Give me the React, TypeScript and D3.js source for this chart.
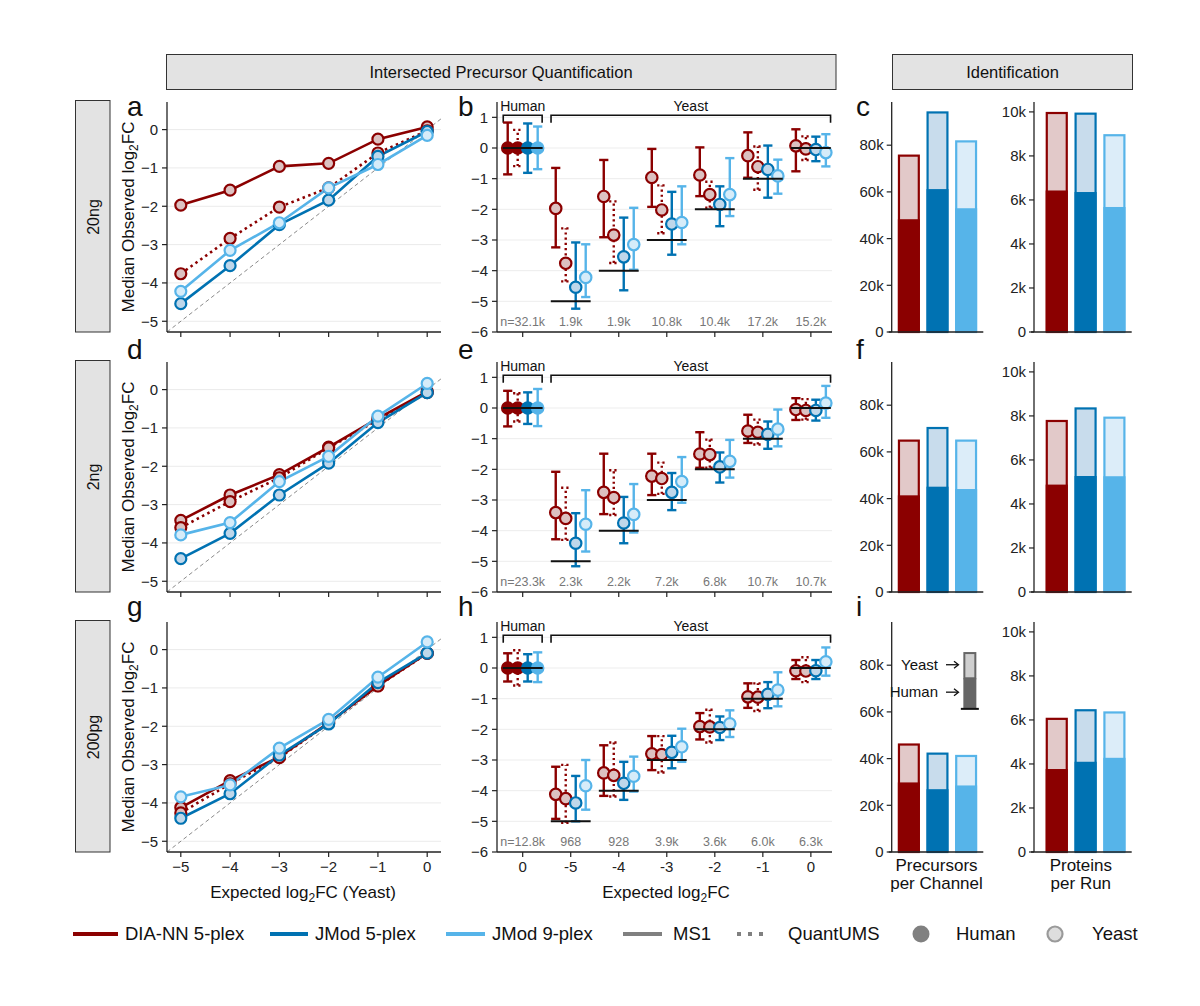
import React from "react";
import * as d3 from "d3";

const FONT = "'Liberation Sans', Arial, Helvetica, sans-serif";

const rowLabels = ["20ng", "2ng", "200pg"];
const expectedFC = [-5, -4, -3, -2, -1, 0];
const categoryRefs = [0, -5, -4, -3, -2, -1, 0];
const categoryLabels = ["0", "-5", "-4", "-3", "-2", "-1", "0"];
const lineTickLabels = ["\u22125", "\u22124", "\u22123", "\u22122", "\u22121", "0"];
const seriesKeys = ["MS1", "QuantUMS", "JMod5", "JMod9"];
const barMethods = ["DIA-NN 5-plex", "JMod 5-plex", "JMod 9-plex"];

// index 0 = Human, 1..6 = Yeast expected -5..0
const ms1Med20ng = [0, -1.97, -1.58, -0.96, -0.88, -0.25, 0.07];
const ms1Lo20ng = [-0.86, -3.24, -2.91, -1.92, -1.57, -0.97, -0.76];
const ms1Hi20ng = [0.83, -0.65, -0.39, -0.03, 0.02, 0.51, 0.61];
const quMed20ng = [0, -3.76, -2.84, -2.02, -1.52, -0.61, -0.03];
const quLo20ng = [-0.59, -4.35, -3.75, -2.78, -1.95, -1.36, -0.39];
const quHi20ng = [0.59, -2.62, -1.74, -1.22, -1.1, 0.05, 0.38];
const j5Med20ng = [0, -4.54, -3.55, -2.48, -1.84, -0.7, -0.05];
const j5Lo20ng = [-0.81, -5.24, -4.64, -3.48, -2.55, -1.62, -0.43];
const j5Hi20ng = [0.8, -3.08, -2.27, -1.43, -1.25, 0.08, 0.37];
const j9Med20ng = [0, -4.22, -3.15, -2.43, -1.52, -0.91, -0.15];
const j9Lo20ng = [-0.69, -4.86, -3.97, -3.14, -2.22, -1.49, -0.6];
const j9Hi20ng = [0.7, -3.14, -1.95, -1.25, -0.33, -0.38, 0.45];

const ms1Med2ng = [0, -3.41, -2.75, -2.22, -1.5, -0.75, -0.05];
const ms1Lo2ng = [-0.6, -4.28, -3.46, -2.84, -1.95, -1.14, -0.39];
const ms1Hi2ng = [0.56, -2.08, -1.49, -1.49, -0.79, -0.22, 0.32];
const quMed2ng = [0, -3.6, -2.92, -2.3, -1.52, -0.79, -0.08];
const quLo2ng = [-0.44, -4.3, -3.49, -2.8, -1.95, -1.19, -0.38];
const quHi2ng = [0.48, -2.6, -2.03, -1.78, -1.03, -0.38, 0.29];
const j5Med2ng = [0, -4.41, -3.75, -2.75, -1.92, -0.86, -0.08];
const j5Lo2ng = [-0.52, -5.16, -4.41, -3.33, -2.43, -1.33, -0.41];
const j5Hi2ng = [0.51, -3.43, -2.9, -2.12, -1.45, -0.44, 0.27];
const j9Med2ng = [0, -3.79, -3.47, -2.4, -1.74, -0.69, 0.16];
const j9Lo2ng = [-0.59, -4.68, -4.06, -3.09, -2.27, -1.25, -0.32];
const j9Hi2ng = [0.62, -2.68, -2.48, -1.6, -1.04, -0.05, 0.72];

const ms1Med200pg = [0, -4.12, -3.42, -2.8, -1.91, -0.94, -0.09];
const ms1Lo200pg = [-0.44, -4.92, -4.17, -3.33, -2.33, -1.3, -0.36];
const ms1Hi200pg = [0.48, -3.22, -2.52, -2.22, -1.47, -0.5, 0.26];
const quMed200pg = [0, -4.26, -3.5, -2.82, -1.92, -0.95, -0.1];
const quLo200pg = [-0.57, -5.05, -4.19, -3.41, -2.43, -1.4, -0.46];
const quHi200pg = [0.58, -3.16, -2.43, -2.22, -1.36, -0.5, 0.35];
const j5Med200pg = [0, -4.4, -3.76, -2.75, -1.94, -0.86, -0.09];
const j5Lo200pg = [-0.44, -5.0, -4.3, -3.27, -2.35, -1.31, -0.36];
const j5Hi200pg = [0.45, -3.52, -3.06, -2.21, -1.58, -0.46, 0.26];
const j9Med200pg = [0, -3.84, -3.53, -2.57, -1.82, -0.72, 0.2];
const j9Lo200pg = [-0.46, -4.62, -4.03, -3.06, -2.25, -1.25, -0.25];
const j9Hi200pg = [0.51, -3.0, -2.89, -1.98, -1.38, -0.14, 0.67];

const nLabels20ng = ["n=32.1k", "1.9k", "1.9k", "10.8k", "10.4k", "17.2k", "15.2k"];
const nLabels2ng = ["n=23.3k", "2.3k", "2.2k", "7.2k", "6.8k", "10.7k", "10.7k"];
const nLabels200pg = ["n=12.8k", "968", "928", "3.9k", "3.6k", "6.0k", "6.3k"];

const precTotal20ng = [76000, 94500, 82100];
const precHuman20ng = [48300, 61200, 53000];
const precTotal2ng = [65300, 70700, 65300];
const precHuman2ng = [41400, 45100, 44100];
const precTotal200pg = [46500, 42600, 41600];
const precHuman200pg = [29800, 26900, 28500];
const protTotal20ng = [10000, 9970, 8990];
const protHuman20ng = [6430, 6360, 5680];
const protTotal2ng = [7820, 8390, 7970];
const protHuman2ng = [4880, 5270, 5260];
const protTotal200pg = [6100, 6490, 6390];
const protHuman200pg = [3770, 4100, 4280];

const precTicks = [0, 20000, 40000, 60000, 80000];
const protTicks = [0, 2000, 4000, 6000, 8000, 10000];
const lineYTicks = [-5, -4, -3, -2, -1, 0];
const errYTicks = [-6, -5, -4, -3, -2, -1, 0, 1];

// inset legend of panel i (values on the precursor axis)
const insetYeastTop = 85200;
const insetHumanTop = 74400;
const insetBase = 61300;

const quantRows = [
  {
    MS1: { med: ms1Med20ng, lo: ms1Lo20ng, hi: ms1Hi20ng },
    QuantUMS: { med: quMed20ng, lo: quLo20ng, hi: quHi20ng },
    JMod5: { med: j5Med20ng, lo: j5Lo20ng, hi: j5Hi20ng },
    JMod9: { med: j9Med20ng, lo: j9Lo20ng, hi: j9Hi20ng },
  },
  {
    MS1: { med: ms1Med2ng, lo: ms1Lo2ng, hi: ms1Hi2ng },
    QuantUMS: { med: quMed2ng, lo: quLo2ng, hi: quHi2ng },
    JMod5: { med: j5Med2ng, lo: j5Lo2ng, hi: j5Hi2ng },
    JMod9: { med: j9Med2ng, lo: j9Lo2ng, hi: j9Hi2ng },
  },
  {
    MS1: { med: ms1Med200pg, lo: ms1Lo200pg, hi: ms1Hi200pg },
    QuantUMS: { med: quMed200pg, lo: quLo200pg, hi: quHi200pg },
    JMod5: { med: j5Med200pg, lo: j5Lo200pg, hi: j5Hi200pg },
    JMod9: { med: j9Med200pg, lo: j9Lo200pg, hi: j9Hi200pg },
  },
];
const nLabelRows = [nLabels20ng, nLabels2ng, nLabels200pg];
const precRows = [
  { total: precTotal20ng, human: precHuman20ng },
  { total: precTotal2ng, human: precHuman2ng },
  { total: precTotal200pg, human: precHuman200pg },
];
const protRows = [
  { total: protTotal20ng, human: protHuman20ng },
  { total: protTotal2ng, human: protHuman2ng },
  { total: protTotal200pg, human: protHuman200pg },
];

const RED = "#8B0000";
const BLUE = "#0072B2";
const SKY = "#56B4E9";
const seriesColor: Record<string, string> = { MS1: RED, QuantUMS: RED, JMod5: BLUE, JMod9: SKY };
const seriesTint: Record<string, string> = { MS1: "#dcc1c1", QuantUMS: "#dcc1c1", JMod5: "#bfd7ea", JMod9: "#d6ecf9" };
const seriesDash: Record<string, string | undefined> = { MS1: undefined, QuantUMS: "2.5,3.5", JMod5: undefined, JMod9: undefined };
const barColor = [RED, BLUE, SKY];
const barTint = ["#e2c9c9", "#c8dcec", "#dcedf9"];

const AX = "#222";
const ROW_TOPS = [102, 362, 622];
const ROW_H = 230;
const LETTER_Y = [116, 359, 616];

function LinePanel({ r }: { r: number }) {
  const top = ROW_TOPS[r];
  const bottom = top + ROW_H;
  const x = d3.scaleLinear().domain([-5.28, 0.28]).range([167, 441]);
  const y = d3.scaleLinear().domain([-5.28, 0.72]).range([bottom, top]);
  const data = quantRows[r] as any;
  const line = d3.line<number>().x((_, i) => x(expectedFC[i])).y((d) => y(d));
  return (
    <g>
      {lineYTicks.map((t) => (
        <line key={"g" + t} x1={167} x2={441} y1={y(t)} y2={y(t)} stroke="#ebebeb" strokeWidth={1} />
      ))}
      <line x1={x(-5.28)} y1={y(-5.28)} x2={x(0.28)} y2={y(0.28)} stroke="#8a8a8a" strokeWidth={1} strokeDasharray="4,3" />
      {seriesKeys.map((k) => (
        <path key={"l" + k} d={line(data[k].med.slice(1)) || ""} fill="none" stroke={seriesColor[k]}
          strokeWidth={2.6} strokeDasharray={seriesDash[k]} />
      ))}
      {seriesKeys.map((k) =>
        data[k].med.slice(1).map((v: number, i: number) => (
          <circle key={k + i} cx={x(expectedFC[i])} cy={y(v)} r={5.5} fill={seriesTint[k]} stroke={seriesColor[k]} strokeWidth={2.2} />
        ))
      )}
      <line x1={167} x2={167} y1={top} y2={bottom} stroke={AX} strokeWidth={1.3} />
      <line x1={167} x2={441} y1={bottom} y2={bottom} stroke={AX} strokeWidth={1.3} />
      {lineYTicks.map((t) => (
        <g key={"yt" + t}>
          <line x1={162} x2={167} y1={y(t)} y2={y(t)} stroke={AX} strokeWidth={1.2} />
          <text x={158} y={y(t)} dy="0.35em" textAnchor="end" fontSize={15} fill="#222">
            {t === 0 ? "0" : "\u2212" + Math.abs(t)}
          </text>
        </g>
      ))}
      {expectedFC.map((t, i) => (
        <g key={"xt" + t}>
          <line x1={x(t)} x2={x(t)} y1={bottom} y2={bottom + 5} stroke={AX} strokeWidth={1.2} />
          {r === 2 && (
            <text x={x(t)} y={bottom + 20} textAnchor="middle" fontSize={15} fill="#222">{lineTickLabels[i]}</text>
          )}
        </g>
      ))}
      <text transform={`translate(134,${top + ROW_H / 2}) rotate(-90)`} textAnchor="middle" fontSize={17} fill="#111">
        Median Observed log<tspan fontSize={12} dy={4}>2</tspan><tspan dy={-4}>FC</tspan>
      </text>
    </g>
  );
}

function ErrorPanel({ r }: { r: number }) {
  const top = ROW_TOPS[r];
  const bottom = top + ROW_H;
  const x = d3.scaleLinear().domain([0.465, 7.44]).range([497, 832]);
  const y = d3.scaleLinear().domain([-6, 1.5]).range([bottom, top]);
  const dodge = d3.scalePoint<string>().domain(seriesKeys).range([-0.312, 0.312]);
  const data = quantRows[r] as any;
  const cats = categoryRefs.map((_, i) => i + 1);
  const capHalf = 4.6;
  return (
    <g>
      {errYTicks.map((t) => (
        <line key={"g" + t} x1={497} x2={832} y1={y(t)} y2={y(t)} stroke="#ededed" strokeWidth={1} />
      ))}
      <path d={`M${x(1 - 0.405)},${y(0.82)}V${y(1.07)}H${x(1 + 0.405)}V${y(0.82)}`} fill="none" stroke="#111" strokeWidth={1.6} />
      <path d={`M${x(2 - 0.41)},${y(0.82)}V${y(1.07)}H${x(7 + 0.41)}V${y(0.82)}`} fill="none" stroke="#111" strokeWidth={1.6} />
      <text x={x(1)} y={y(1.38)} dy="0.35em" textAnchor="middle" fontSize={14} fill="#111">Human</text>
      <text x={(x(2 - 0.41) + x(7 + 0.41)) / 2} y={y(1.38)} dy="0.35em" textAnchor="middle" fontSize={14} fill="#111">Yeast</text>
      {seriesKeys.map((k) =>
        cats.map((c, i) => {
          const cx = x(c + (dodge(k) as number));
          const dash = seriesDash[k] ? "2.2,3" : undefined;
          return (
            <g key={k + "e" + i} stroke={seriesColor[k]} strokeWidth={2.4} strokeDasharray={dash}>
              <line x1={cx} x2={cx} y1={y(data[k].lo[i])} y2={y(data[k].hi[i])} />
              <line x1={cx - capHalf} x2={cx + capHalf} y1={y(data[k].lo[i])} y2={y(data[k].lo[i])} />
              <line x1={cx - capHalf} x2={cx + capHalf} y1={y(data[k].hi[i])} y2={y(data[k].hi[i])} />
            </g>
          );
        })
      )}
      {seriesKeys.map((k) =>
        cats.map((c, i) => (
          <circle key={k + "p" + i} cx={x(c + (dodge(k) as number))} cy={y(data[k].med[i])} r={5.7}
            fill={i === 0 ? seriesColor[k] : seriesTint[k]} stroke={seriesColor[k]} strokeWidth={2.2} />
        ))
      )}
      {cats.map((c, i) => (
        <line key={"ref" + i} x1={x(c - 0.415)} x2={x(c + 0.415)} y1={y(categoryRefs[i])} y2={y(categoryRefs[i])}
          stroke="#111" strokeWidth={2} />
      ))}
      {cats.map((c, i) => (
        <text key={"n" + i} x={x(c)} y={y(-5.66)} dy="0.35em" textAnchor="middle" fontSize={12.5} fill="#777">
          {nLabelRows[r][i]}
        </text>
      ))}
      <line x1={497} x2={497} y1={top} y2={bottom} stroke={AX} strokeWidth={1.3} />
      <line x1={497} x2={832} y1={bottom} y2={bottom} stroke={AX} strokeWidth={1.3} />
      {errYTicks.map((t) => (
        <g key={"yt" + t}>
          <line x1={492} x2={497} y1={y(t)} y2={y(t)} stroke={AX} strokeWidth={1.2} />
          <text x={488} y={y(t)} dy="0.35em" textAnchor="end" fontSize={15} fill="#222">
            {t < 0 ? "\u2212" + Math.abs(t) : String(t)}
          </text>
        </g>
      ))}
      {cats.map((c, i) => (
        <g key={"xt" + i}>
          <line x1={x(c)} x2={x(c)} y1={bottom} y2={bottom + 5} stroke={AX} strokeWidth={1.2} />
          {r === 2 && (
            <text x={x(c)} y={bottom + 20} textAnchor="middle" fontSize={15} fill="#222">{categoryLabels[i]}</text>
          )}
        </g>
      ))}
    </g>
  );
}

function BarPanel({ r, kind }: { r: number; kind: "prec" | "prot" }) {
  const top = ROW_TOPS[r];
  const bottom = top + ROW_H;
  const isPrec = kind === "prec";
  const x0 = isPrec ? 891.7 : 1034;
  const x1 = isPrec ? 983.3 : 1131.7;
  const x = d3.scaleLinear().domain(isPrec ? [0.4, 3.6] : [0.21, 3.6]).range([x0, x1]);
  const y = d3.scaleLinear().domain([0, isPrec ? 98500 : 10450]).range([bottom, top]);
  const ticks = isPrec ? precTicks : protTicks;
  const rows = isPrec ? precRows : protRows;
  const d = rows[r];
  const bw = 0.77;
  const fmt = (v: number) => (v === 0 ? "0" : v / 1000 + "k");
  const cx = (x0 + x1) / 2 + (isPrec ? -1 : -2);
  return (
    <g>
      {barMethods.map((m, i) => {
        const left = x(i + 1 - bw / 2);
        const right = x(i + 1 + bw / 2);
        return (
          <g key={m}>
            <rect x={left + 1.1} y={y(d.total[i]) + 1.1} width={right - left - 2.2} height={bottom - y(d.total[i]) - 1.1}
              fill={barTint[i]} stroke={barColor[i]} strokeWidth={2.2} />
            <rect x={left} y={y(d.human[i])} width={right - left} height={bottom - y(d.human[i])} fill={barColor[i]} />
          </g>
        );
      })}
      {isPrec && r === 2 && (
        <g>
          <rect x={x(3.13) - 5.5} y={y(insetYeastTop)} width={11} height={y(insetHumanTop) - y(insetYeastTop)}
            fill="#cfcfcf" stroke="#666" strokeWidth={2} />
          <rect x={x(3.13) - 6.5} y={y(insetHumanTop)} width={13} height={y(insetBase) - y(insetHumanTop)} fill="#666" />
          <line x1={x(3.13) - 9} x2={x(3.13) + 9} y1={y(insetBase)} y2={y(insetBase)} stroke="#111" strokeWidth={2} />
          <text x={938} y={y((insetYeastTop + insetHumanTop) / 2 + 400)} dy="0.35em" textAnchor="end" fontSize={15} fill="#111">Yeast</text>
          <text x={938} y={y((insetHumanTop + insetBase) / 2 + 600)} dy="0.35em" textAnchor="end" fontSize={15} fill="#111">Human</text>
          {[(insetYeastTop + insetHumanTop) / 2 + 400, (insetHumanTop + insetBase) / 2 + 600].map((v, i) => (
            <g key={"arr" + i} stroke="#111" strokeWidth={1.3} fill="none">
              <line x1={946} x2={958} y1={y(v)} y2={y(v)} />
              <path d={`M954,${y(v) - 3.5}L958.5,${y(v)}L954,${y(v) + 3.5}`} />
            </g>
          ))}
        </g>
      )}
      <line x1={x0} x2={x0} y1={top} y2={bottom} stroke={AX} strokeWidth={1.3} />
      <line x1={x0 - 3} x2={x1} y1={bottom} y2={bottom} stroke={AX} strokeWidth={1.3} />
      {ticks.map((t) => (
        <g key={"t" + t}>
          <line x1={x0 - 5} x2={x0} y1={y(t)} y2={y(t)} stroke={AX} strokeWidth={1.2} />
          <text x={x0 - 8} y={y(t)} dy="0.35em" textAnchor="end" fontSize={15} fill="#222">{fmt(t)}</text>
        </g>
      ))}
      {r === 2 && (
        <text y={871} textAnchor="middle" fontSize={17} fill="#111">
          <tspan x={cx}>{isPrec ? "Precursors" : "Proteins"}</tspan>
          <tspan x={cx} dy={18}>{isPrec ? "per Channel" : "per Run"}</tspan>
        </text>
      )}
    </g>
  );
}

function Legend() {
  const y = 934;
  return (
    <g fontSize={18.5} fill="#111">
      <line x1={73} x2={118} y1={y} y2={y} stroke={RED} strokeWidth={4} />
      <text x={125} y={y} dy="0.35em">DIA-NN 5-plex</text>
      <line x1={270} x2={308} y1={y} y2={y} stroke={BLUE} strokeWidth={4} />
      <text x={315} y={y} dy="0.35em">JMod 5-plex</text>
      <line x1={446} x2={485} y1={y} y2={y} stroke={SKY} strokeWidth={4} />
      <text x={492} y={y} dy="0.35em">JMod 9-plex</text>
      <line x1={623} x2={662} y1={y} y2={y} stroke="#808080" strokeWidth={4} />
      <text x={673} y={y} dy="0.35em">MS1</text>
      <line x1={737} x2={766} y1={y} y2={y} stroke="#808080" strokeWidth={4} strokeDasharray="4,7" />
      <text x={788} y={y} dy="0.35em">QuantUMS</text>
      <circle cx={921} cy={y} r={8.5} fill="#808080" />
      <text x={956} y={y} dy="0.35em">Human</text>
      <circle cx={1055} cy={y} r={7.5} fill="#dedede" stroke="#9a9a9a" strokeWidth={2.2} />
      <text x={1092} y={y} dy="0.35em">Yeast</text>
    </g>
  );
}

export default function App() {
  return (
    <svg width={1200} height={1006} style={{ position: "absolute", left: 0, top: 0, background: "#fff" }}
      fontFamily={FONT}>
      <rect x={0} y={0} width={1200} height={1006} fill="#fff" />
      <rect x={166.5} y={54.5} width={669.5} height={35} fill="#e3e3e3" stroke="#333" strokeWidth={1} />
      <text x={501} y={72} dy="0.35em" textAnchor="middle" fontSize={16.5} fill="#111">Intersected Precursor Quantification</text>
      <rect x={892.5} y={54.5} width={240} height={35} fill="#e3e3e3" stroke="#333" strokeWidth={1} />
      <text x={1012.5} y={72} dy="0.35em" textAnchor="middle" fontSize={16.5} fill="#111">Identification</text>
      {rowLabels.map((lab, r) => (
        <g key={lab}>
          <rect x={75.5} y={ROW_TOPS[r] - 1.5} width={34.5} height={ROW_H + 1.5} fill="#e3e3e3" stroke="#333" strokeWidth={1} />
          <text transform={`translate(93,${ROW_TOPS[r] + ROW_H / 2}) rotate(-90)`} dy="0.35em" textAnchor="middle" fontSize={16} fill="#111">
            {lab}
          </text>
          <LinePanel r={r} />
          <ErrorPanel r={r} />
          <BarPanel r={r} kind="prec" />
          <BarPanel r={r} kind="prot" />
          <text x={127} y={LETTER_Y[r]} fontSize={28} fill="#111">{["a", "d", "g"][r]}</text>
          <text x={458} y={LETTER_Y[r]} fontSize={28} fill="#111">{["b", "e", "h"][r]}</text>
          <text x={856} y={LETTER_Y[r]} fontSize={28} fill="#111">{["c", "f", "i"][r]}</text>
        </g>
      ))}
      <text x={303} y={898} textAnchor="middle" fontSize={17} fill="#111">
        Expected log<tspan fontSize={12} dy={4}>2</tspan><tspan dy={-4}>FC (Yeast)</tspan>
      </text>
      <text x={666} y={898} textAnchor="middle" fontSize={17} fill="#111">
        Expected log<tspan fontSize={12} dy={4}>2</tspan><tspan dy={-4}>FC</tspan>
      </text>
      <Legend />
    </svg>
  );
}
